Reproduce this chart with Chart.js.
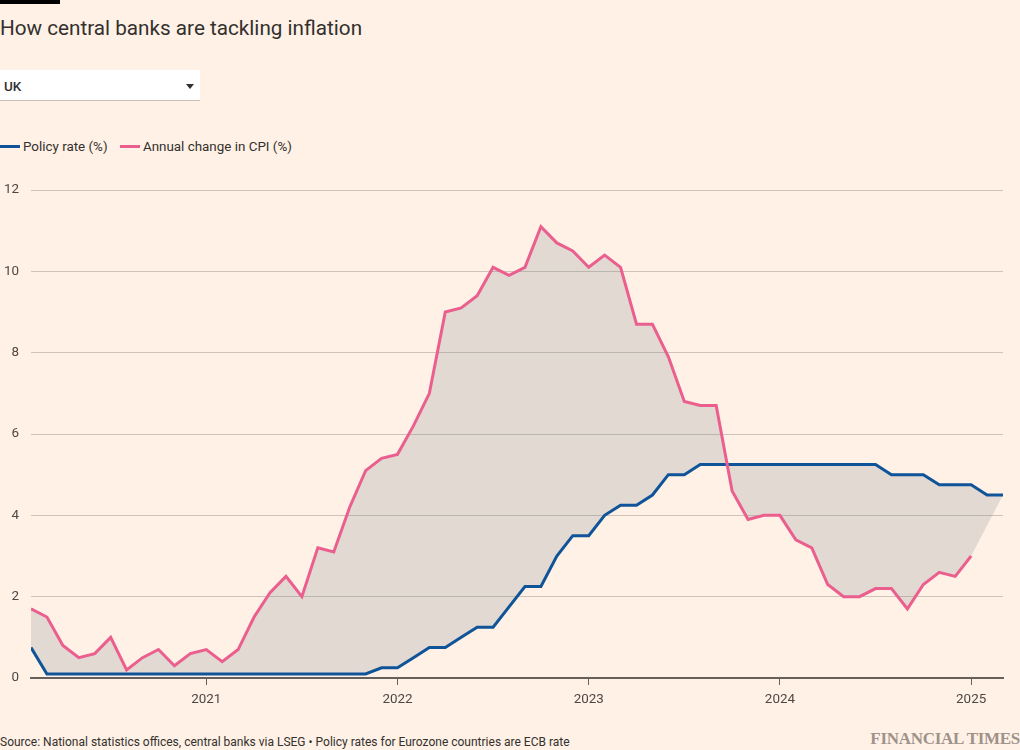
<!DOCTYPE html>
<html>
<head>
<meta charset="utf-8">
<script src="https://cdn.jsdelivr.net/npm/chart.js@4.4.1/dist/chart.umd.min.js"></script>
<style>
  html, body { margin: 0; padding: 0; background: #fff1e5; }
  body { width: 1020px; height: 750px; position: relative; overflow: hidden; font-family: Roboto, "Noto Sans", sans-serif; color: #33302e; }
  .bar { position: absolute; left: 0; top: 0; width: 60px; height: 4px; background: #000; }
  .title { position: absolute; left: 0; top: 15px; font-size: 20.7px; line-height: 26px; color: #33302e; }
  .select { position: absolute; left: 0; top: 70px; width: 200px; height: 30px; background: #fff; border-bottom: 1px solid #ccc1b7; }
  .select span { position: absolute; left: 4px; top: 8px; font-size: 13.5px; font-weight: 500; color: #33302e; }
  .select i { position: absolute; left: 186px; top: 14px; width: 0; height: 0; border-left: 4.5px solid transparent; border-right: 4.5px solid transparent; border-top: 5px solid #33302e; }
  .legend { position: absolute; left: 0; top: 139px; font-size: 13.4px; line-height: 16px; color: #33302e; white-space: nowrap; }
  .legend .sw { display: inline-block; width: 20px; height: 3px; vertical-align: middle; margin: 0 3px 2px 0; }
  .legend .item { margin-right: 9px; }
  #wrap { position: absolute; left: 0; top: 170px; width: 1020px; height: 550px; }
  .source { position: absolute; left: 0; top: 735px; font-size: 12px; line-height: 14px; color: #33302e; }
  .ft { position: absolute; right: 0; top: 730px; font-family: "Liberation Serif", "DejaVu Serif", serif; font-weight: bold; font-size: 17px; line-height: 18px; color: #9e928a; letter-spacing: -0.3px; }
</style>
</head>
<body>
<div class="bar"></div>
<div class="title">How central banks are tackling inflation</div>
<div class="select"><span>UK</span><i></i></div>
<div class="legend">
  <span class="item"><span class="sw" style="background:#0f5499"></span>Policy rate (%)</span>
  <span class="item"><span class="sw" style="background:#eb5f8f"></span>Annual change in CPI (%)</span>
</div>
<div id="wrap"><canvas id="chart"></canvas></div>
<div class="source">Source: National statistics offices, central banks via LSEG &bull; Policy rates for Eurozone countries are ECB rate</div>
<div class="ft">FINANCIAL TIMES</div>

<script>
// Monthly observations, Feb 2020 - Mar 2025
var months = [
    '2020-02', '2020-03', '2020-04', '2020-05', '2020-06', '2020-07', '2020-08', '2020-09', '2020-10', '2020-11', '2020-12',
    '2021-01', '2021-02', '2021-03', '2021-04', '2021-05', '2021-06', '2021-07', '2021-08', '2021-09', '2021-10', '2021-11', '2021-12',
    '2022-01', '2022-02', '2022-03', '2022-04', '2022-05', '2022-06', '2022-07', '2022-08', '2022-09', '2022-10', '2022-11', '2022-12',
    '2023-01', '2023-02', '2023-03', '2023-04', '2023-05', '2023-06', '2023-07', '2023-08', '2023-09', '2023-10', '2023-11', '2023-12',
    '2024-01', '2024-02', '2024-03', '2024-04', '2024-05', '2024-06', '2024-07', '2024-08', '2024-09', '2024-10', '2024-11', '2024-12',
    '2025-01', '2025-02', '2025-03'
];

var policyRate = [
    0.75, 0.1, 0.1, 0.1, 0.1, 0.1, 0.1, 0.1, 0.1, 0.1, 0.1,
    0.1, 0.1, 0.1, 0.1, 0.1, 0.1, 0.1, 0.1, 0.1, 0.1, 0.1, 0.25,
    0.25, 0.5, 0.75, 0.75, 1.0, 1.25, 1.25, 1.75, 2.25, 2.25, 3.0, 3.5,
    3.5, 4.0, 4.25, 4.25, 4.5, 5.0, 5.0, 5.25, 5.25, 5.25, 5.25, 5.25,
    5.25, 5.25, 5.25, 5.25, 5.25, 5.25, 5.25, 5.0, 5.0, 5.0, 4.75, 4.75,
    4.75, 4.5, 4.5
];

// CPI ends at Jan 2025
var cpiChange = [
    1.7, 1.5, 0.8, 0.5, 0.6, 1.0, 0.2, 0.5, 0.7, 0.3, 0.6,
    0.7, 0.4, 0.7, 1.5, 2.1, 2.5, 2.0, 3.2, 3.1, 4.2, 5.1, 5.4,
    5.5, 6.2, 7.0, 9.0, 9.1, 9.4, 10.1, 9.9, 10.1, 11.1, 10.7, 10.5,
    10.1, 10.4, 10.1, 8.7, 8.7, 7.9, 6.8, 6.7, 6.7, 4.6, 3.9, 4.0,
    4.0, 3.4, 3.2, 2.3, 2.0, 2.0, 2.2, 2.2, 1.7, 2.3, 2.6, 2.5,
    3.0
];

var yearTicks = [2021, 2022, 2023, 2024, 2025];
var yTicks = [0, 2, 4, 6, 8, 10, 12];

function monthToX(m) {
    var parts = m.split('-');
    return parseInt(parts[0], 10) + (parseInt(parts[1], 10) - 1) / 12;
}

var policyPts = policyRate.map(function (v, i) { return { x: monthToX(months[i]), y: v }; });
var cpiPts = cpiChange.map(function (v, i) { return { x: monthToX(months[i]), y: v }; });
// shaded gap: CPI line, closed straight to the last policy reading
var gapEdge = cpiPts.concat([policyPts[policyPts.length - 1]]);

var textColor = '#4d4845';
var gridColor = '#cec3b8';
var axisColor = '#66605c';

new Chart(document.getElementById('chart'), {
    type: 'line',
    data: {
        datasets: [
            { label: 'Policy rate (%)', data: policyPts, borderColor: '#0f5499', borderWidth: 3, pointRadius: 0, tension: 0, fill: false, order: 1 },
            { label: 'Annual change in CPI (%)', data: cpiPts, borderColor: '#eb5f8f', borderWidth: 3, pointRadius: 0, tension: 0, fill: false, order: 0 },
            { label: 'gap', data: gapEdge, borderWidth: 0, borderColor: 'rgba(0,0,0,0)', pointRadius: 0, tension: 0,
              fill: { target: 0 }, backgroundColor: 'rgba(115,126,139,0.2)', order: 2 }
        ]
    },
    options: {
        responsive: true,
        maintainAspectRatio: false,
        animation: false,
        layout: { padding: { top: 19, right: 17, left: 0, bottom: 0 } },
        plugins: {
            legend: { display: false },
            tooltip: { enabled: false },
            filler: { drawTime: 'beforeDatasetsDraw' }
        },
        scales: {
            x: {
                type: 'linear',
                min: monthToX(months[0]),
                max: monthToX(months[months.length - 1]),
                afterBuildTicks: function (scale) {
                    scale.ticks = yearTicks.map(function (v) { return { value: v }; });
                },
                afterFit: function (scale) { scale.height = 42; },
                grid: { drawOnChartArea: false, drawTicks: true, tickLength: 7, color: axisColor, lineWidth: 1 },
                border: { display: true, color: axisColor, width: 2 },
                ticks: {
                    autoSkip: false, maxRotation: 0, padding: 7, color: textColor,
                    font: { family: 'Roboto', size: 13.4 },
                    callback: function (v) { return String(v); }
                }
            },
            y: {
                min: 0,
                max: 12,
                afterBuildTicks: function (scale) {
                    scale.ticks = yTicks.map(function (v) { return { value: v }; });
                },
                afterFit: function (scale) { scale.width = 31; },
                grid: {
                    drawTicks: false,
                    color: function (ctx) { return ctx.tick && ctx.tick.value === 0 ? 'rgba(0,0,0,0)' : gridColor; },
                    lineWidth: 1
                },
                border: { display: false },
                ticks: { padding: 12, color: textColor, font: { family: 'Roboto', size: 13.4 } }
            }
        }
    }
});
</script>
</body>
</html>
